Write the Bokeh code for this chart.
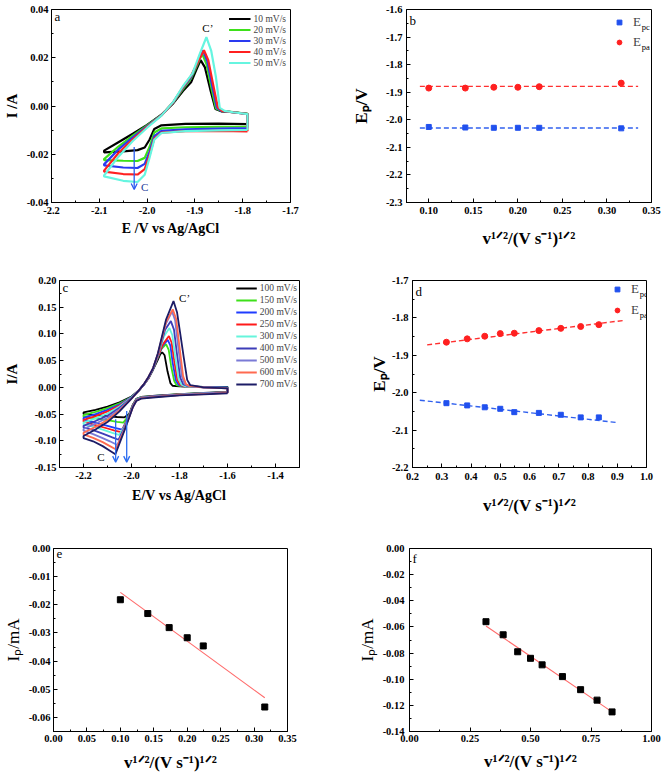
from bokeh.plotting import figure
from bokeh.layouts import column, row
from bokeh.models import (FixedTicker, PrintfTickFormatter, Legend, LegendItem,
                          Label, Arrow, OpenHead)
from bokeh.embed import file_html
from bokeh.resources import INLINE

SERIF = "Liberation Serif"

# ---------------- panel a : CVs 10-50 mV/s ----------------
a_rates = ["10 mV/s", "20 mV/s", "30 mV/s", "40 mV/s", "50 mV/s"]
a_colors = ["#000000", "#3ee01a", "#2a3af0", "#ff2020", "#66f5e0"]
a10_E = [-1.79, -1.85, -1.92, -1.97, -1.985, -1.995, -2.005, -2.02, -2.05, -2.09,
         -2.09, -2.06, -2.03, -2.00, -1.97, -1.945, -1.925, -1.908, -1.897, -1.888, -1.879, -1.868, -1.857, -1.845, -1.82, -1.79, -1.79]
a10_I = [-0.0075, -0.0073, -0.0074, -0.0080, -0.0095, -0.0140, -0.0172, -0.0183, -0.0188, -0.0192,
         -0.0185, -0.0150, -0.0115, -0.0078, -0.0036, 0.0012, 0.0062, 0.0098, 0.0150, 0.0190, 0.0160, 0.0070, -0.0012, -0.0022, -0.0026, -0.0032, -0.0075]
a20_E = [-1.79, -1.85, -1.92, -1.97, -1.985, -1.995, -2.005, -2.02, -2.05, -2.09,
         -2.09, -2.06, -2.03, -2.00, -1.97, -1.945, -1.925, -1.908, -1.894, -1.885, -1.876, -1.866, -1.856, -1.845, -1.82, -1.79, -1.79]
a20_I = [-0.0085, -0.0086, -0.0088, -0.0093, -0.0110, -0.0170, -0.0215, -0.0228, -0.0227, -0.0224,
         -0.0220, -0.0168, -0.0123, -0.0080, -0.0037, 0.0015, 0.0070, 0.0115, 0.0175, 0.0217, 0.0175, 0.0080, -0.0010, -0.0020, -0.0025, -0.0033, -0.0085]
a30_E = [-1.79, -1.85, -1.92, -1.97, -1.985, -1.995, -2.005, -2.02, -2.05, -2.09,
         -2.09, -2.06, -2.03, -2.00, -1.97, -1.945, -1.925, -1.908, -1.893, -1.883, -1.874, -1.864, -1.854, -1.845, -1.82, -1.79, -1.79]
a30_I = [-0.0092, -0.0094, -0.0097, -0.0103, -0.0125, -0.0190, -0.0240, -0.0257, -0.0255, -0.0246,
         -0.0242, -0.0180, -0.0130, -0.0083, -0.0038, 0.0016, 0.0075, 0.0120, 0.0185, 0.0230, 0.0185, 0.0085, -0.0008, -0.0020, -0.0026, -0.0034, -0.0092]
a40_E = [-1.79, -1.85, -1.92, -1.97, -1.985, -1.995, -2.005, -2.02, -2.05, -2.09,
         -2.09, -2.06, -2.03, -2.00, -1.97, -1.945, -1.925, -1.908, -1.892, -1.881, -1.872, -1.862, -1.852, -1.843, -1.82, -1.79, -1.79]
a40_I = [-0.0105, -0.0103, -0.0104, -0.0110, -0.0135, -0.0205, -0.0262, -0.0284, -0.0282, -0.0272,
         -0.0268, -0.0195, -0.0138, -0.0086, -0.0039, 0.0017, 0.0078, 0.0125, 0.0190, 0.0231, 0.0190, 0.0090, -0.0006, -0.0020, -0.0026, -0.0034, -0.0105]
a50_E = [-1.79, -1.85, -1.92, -1.97, -1.985, -1.995, -2.005, -2.02, -2.05, -2.09,
         -2.09, -2.06, -2.03, -2.00, -1.97, -1.945, -1.925, -1.905, -1.89, -1.876, -1.866, -1.856, -1.848, -1.838, -1.82, -1.79, -1.79]
a50_I = [-0.0099, -0.0101, -0.0104, -0.0112, -0.0140, -0.0215, -0.0285, -0.0315, -0.0310, -0.0292,
         -0.0288, -0.0210, -0.0145, -0.0090, -0.0040, 0.0018, 0.0082, 0.0135, 0.0215, 0.0285, 0.0230, 0.0120, -0.0008, -0.0020, -0.0026, -0.0034, -0.0099]
a_xticks = [-2.2, -2.1, -2.0, -1.9, -1.8, -1.7]
a_xminor = [-2.15, -2.05, -1.95, -1.85, -1.75]
a_yticks = [-0.04, -0.02, 0.0, 0.02, 0.04]
a_yminor = [-0.03, -0.01, 0.01, 0.03]
a_arrow = [-2.027, -0.0170, -2.027, -0.0346]

# ---------------- panel b ----------------
b_x = [0.100, 0.141, 0.173, 0.200, 0.224, 0.316]
b_epc = [-2.026, -2.028, -2.029, -2.029, -2.029, -2.031]
b_epa = [-1.885, -1.885, -1.882, -1.882, -1.880, -1.867]
b_fit_x = [0.09, 0.335]
b_fit_pc = [-2.030, -2.030]
b_fit_pa = [-1.879, -1.879]
b_xticks = [0.10, 0.15, 0.20, 0.25, 0.30, 0.35]
b_xminor = [0.075, 0.125, 0.175, 0.225, 0.275, 0.325]
b_yticks = [-2.3, -2.2, -2.1, -2.0, -1.9, -1.8, -1.7, -1.6]
b_yminor = [-2.25, -2.15, -2.05, -1.95, -1.85, -1.75, -1.65]

# ---------------- panel c : CVs 100-700 mV/s ----------------
c_rates = ["100 mV/s", "150 mV/s", "200 mV/s", "250 mV/s", "300 mV/s",
           "400 mV/s", "500 mV/s", "600 mV/s", "700 mV/s"]
c_colors = ["#000000", "#3ee01a", "#1f3cff", "#ff1a1a", "#66f5dc",
            "#3d3db8", "#7a7ad6", "#ff6a50", "#1c1c66"]
c100_E = [-1.60, -1.70, -1.80, -1.90, -1.96, -1.98, -1.995, -2.010, -2.029, -2.06, -2.10, -2.15, -2.20,
          -2.20, -2.15, -2.10, -2.05, -2.00, -1.97, -1.95, -1.93, -1.91, -1.89,
          -1.88, -1.872, -1.862, -1.85, -1.838, -1.829, -1.80, -1.70, -1.60, -1.60]
c100_I = [-0.0085, -0.0105, -0.0125, -0.0155, -0.0180, -0.0215, -0.0330, -0.0500, -0.0560, -0.0555, -0.0540, -0.0520, -0.0500,
          -0.047, -0.042, -0.036, -0.028, -0.017, -0.006, 0.004, 0.016, 0.033, 0.052,
          0.062, 0.0657, 0.060, 0.030, 0.008, 0.003, 0.002, 0.001, 0.001, -0.0085]
c150_E = [-1.60, -1.70, -1.80, -1.90, -1.96, -1.98, -1.995, -2.010, -2.034, -2.06, -2.10, -2.15, -2.20,
          -2.20, -2.15, -2.10, -2.05, -2.00, -1.97, -1.95, -1.93, -1.91, -1.89,
          -1.875, -1.856, -1.845, -1.835, -1.822, -1.812, -1.79, -1.70, -1.60, -1.60]
c150_I = [-0.0088, -0.0108, -0.0128, -0.0158, -0.0183, -0.0220, -0.0340, -0.0520, -0.0660, -0.0645, -0.0615, -0.0580, -0.0550,
          -0.052, -0.046, -0.039, -0.030, -0.018, -0.006, 0.004, 0.017, 0.034, 0.056,
          0.072, 0.081, 0.070, 0.040, 0.012, 0.004, 0.002, 0.001, 0.000, -0.0088]
c200_E = [-1.60, -1.70, -1.80, -1.90, -1.96, -1.98, -1.995, -2.010, -2.039, -2.07, -2.10, -2.15, -2.20,
          -2.20, -2.15, -2.10, -2.05, -2.00, -1.97, -1.95, -1.93, -1.91, -1.89,
          -1.87, -1.849, -1.838, -1.828, -1.815, -1.804, -1.785, -1.70, -1.60, -1.60]
c200_I = [-0.0090, -0.0110, -0.0131, -0.0161, -0.0187, -0.0225, -0.0345, -0.0530, -0.0790, -0.0760, -0.0720, -0.0660, -0.0600,
          -0.057, -0.050, -0.042, -0.032, -0.018, -0.006, 0.004, 0.017, 0.034, 0.057,
          0.078, 0.089, 0.078, 0.045, 0.013, 0.005, 0.002, 0.001, 0.000, -0.0090]
c250_E = [-1.60, -1.70, -1.80, -1.90, -1.96, -1.98, -1.995, -2.010, -2.043, -2.07, -2.10, -2.15, -2.20,
          -2.20, -2.15, -2.10, -2.05, -2.00, -1.97, -1.95, -1.93, -1.91, -1.89,
          -1.87, -1.844, -1.833, -1.822, -1.809, -1.798, -1.78, -1.70, -1.60, -1.60]
c250_I = [-0.0092, -0.0112, -0.0134, -0.0164, -0.0190, -0.0230, -0.0350, -0.0540, -0.0840, -0.0810, -0.0770, -0.0705, -0.0640,
          -0.061, -0.054, -0.045, -0.034, -0.019, -0.006, 0.004, 0.017, 0.035, 0.058,
          0.080, 0.096, 0.084, 0.050, 0.014, 0.005, 0.002, 0.000, -0.001, -0.0092]
c300_E = [-1.60, -1.70, -1.80, -1.90, -1.96, -1.98, -1.995, -2.010, -2.030, -2.052, -2.08, -2.12, -2.16, -2.20,
          -2.20, -2.15, -2.10, -2.05, -2.00, -1.97, -1.95, -1.93, -1.91, -1.89,
          -1.865, -1.842, -1.830, -1.818, -1.804, -1.792, -1.775, -1.70, -1.60, -1.60]
c300_I = [-0.0094, -0.0114, -0.0137, -0.0167, -0.0193, -0.0235, -0.0355, -0.0550, -0.0740, -0.0890, -0.0850, -0.0790, -0.0735, -0.0690,
          -0.066, -0.058, -0.049, -0.036, -0.019, -0.006, 0.004, 0.018, 0.035, 0.060,
          0.095, 0.111, 0.098, 0.058, 0.016, 0.005, 0.002, 0.000, -0.001, -0.0094]
c400_E = [-1.60, -1.70, -1.80, -1.90, -1.96, -1.98, -1.995, -2.010, -2.030, -2.054, -2.08, -2.12, -2.16, -2.20,
          -2.20, -2.15, -2.10, -2.05, -2.00, -1.97, -1.95, -1.93, -1.91, -1.89,
          -1.86, -1.836, -1.823, -1.811, -1.797, -1.785, -1.77, -1.70, -1.60, -1.60]
c400_I = [-0.0097, -0.0117, -0.0140, -0.0171, -0.0197, -0.0240, -0.0360, -0.0555, -0.0760, -0.0980, -0.0935, -0.0865, -0.0800, -0.0750,
          -0.072, -0.063, -0.053, -0.038, -0.020, -0.006, 0.004, 0.018, 0.035, 0.061,
          0.108, 0.124, 0.108, 0.064, 0.018, 0.006, 0.003, 0.000, -0.001, -0.0097]
c500_E = [-1.60, -1.70, -1.80, -1.90, -1.96, -1.98, -1.995, -2.010, -2.030, -2.059, -2.09, -2.12, -2.16, -2.20,
          -2.20, -2.15, -2.10, -2.05, -2.00, -1.97, -1.95, -1.93, -1.91, -1.89,
          -1.858, -1.831, -1.818, -1.805, -1.790, -1.778, -1.765, -1.70, -1.60, -1.60]
c500_I = [-0.0100, -0.0120, -0.0143, -0.0175, -0.0202, -0.0245, -0.0370, -0.0560, -0.0780, -0.1080, -0.1010, -0.0950, -0.0875, -0.0810,
          -0.078, -0.068, -0.057, -0.041, -0.020, -0.006, 0.005, 0.018, 0.036, 0.062,
          0.118, 0.142, 0.125, 0.075, 0.020, 0.006, 0.003, 0.000, -0.002, -0.0100]
c600_E = [-1.60, -1.70, -1.80, -1.90, -1.96, -1.98, -1.995, -2.010, -2.030, -2.066, -2.09, -2.12, -2.16, -2.20,
          -2.20, -2.15, -2.10, -2.05, -2.00, -1.97, -1.95, -1.93, -1.91, -1.89,
          -1.856, -1.828, -1.814, -1.800, -1.785, -1.773, -1.76, -1.70, -1.60, -1.60]
c600_I = [-0.0105, -0.0125, -0.0147, -0.0180, -0.0207, -0.0250, -0.0375, -0.0565, -0.0800, -0.1160, -0.1100, -0.1025, -0.0945, -0.0880,
          -0.085, -0.074, -0.061, -0.043, -0.021, -0.006, 0.005, 0.019, 0.036, 0.063,
          0.122, 0.146, 0.128, 0.076, 0.021, 0.006, 0.003, 0.000, -0.002, -0.0105]
c700_E = [-1.60, -1.70, -1.80, -1.90, -1.96, -1.98, -1.995, -2.010, -2.030, -2.067, -2.09, -2.12, -2.16, -2.20,
          -2.20, -2.15, -2.10, -2.05, -2.00, -1.97, -1.95, -1.93, -1.91, -1.89,
          -1.856, -1.825, -1.810, -1.795, -1.782, -1.768, -1.755, -1.70, -1.60, -1.60]
c700_I = [-0.0110, -0.0130, -0.0150, -0.0185, -0.0212, -0.0255, -0.0380, -0.0570, -0.0815, -0.1250, -0.1185, -0.1100, -0.1010, -0.0950,
          -0.091, -0.079, -0.065, -0.045, -0.021, -0.006, 0.005, 0.019, 0.036, 0.064,
          0.127, 0.1615, 0.140, 0.095, 0.055, 0.014, 0.004, 0.000, -0.002, -0.0110]
c_xticks = [-2.2, -2.0, -1.8, -1.6, -1.4]
c_xminor = [-2.3, -2.1, -1.9, -1.7, -1.5, -1.3]
c_yticks = [-0.15, -0.10, -0.05, 0.0, 0.05, 0.10, 0.15, 0.20]
c_yminor = [-0.125, -0.075, -0.025, 0.025, 0.075, 0.125, 0.175]
c_arrow1 = [-2.066, -0.0596, -2.066, -0.140]
c_arrow2 = [-2.020, -0.0443, -2.020, -0.140]

# ---------------- panel d ----------------
d_x = [0.316, 0.387, 0.447, 0.500, 0.548, 0.632, 0.707, 0.775, 0.837]
d_epc = [-2.028, -2.034, -2.039, -2.043, -2.052, -2.054, -2.059, -2.066, -2.066]
d_epa = [-1.865, -1.856, -1.849, -1.842, -1.841, -1.834, -1.828, -1.823, -1.818]
d_fit_pc_x = [0.225, 0.90]
d_fit_pc_y = [-2.020, -2.080]
d_fit_pa_x = [0.25, 0.92]
d_fit_pa_y = [-1.872, -1.807]
d_xticks = [0.2, 0.3, 0.4, 0.5, 0.6, 0.7, 0.8, 0.9, 1.0]
d_xminor = [0.25, 0.35, 0.45, 0.55, 0.65, 0.75, 0.85, 0.95]
d_yticks = [-2.2, -2.1, -2.0, -1.9, -1.8, -1.7]
d_yminor = [-2.15, -2.05, -1.95, -1.85, -1.75]

# ---------------- panel e ----------------
e_x = [0.100, 0.141, 0.173, 0.200, 0.224, 0.316]
e_ip = [-0.0182, -0.0231, -0.0281, -0.0317, -0.0346, -0.0563]
e_fit_x = [0.100, 0.316]
e_fit_y = [-0.0156, -0.0530]
e_xticks = [0.0, 0.05, 0.10, 0.15, 0.20, 0.25, 0.30, 0.35]
e_xminor = [0.025, 0.075, 0.125, 0.175, 0.225, 0.275, 0.325]
e_yticks = [-0.06, -0.05, -0.04, -0.03, -0.02, -0.01, 0.0]
e_yminor = [-0.065, -0.055, -0.045, -0.035, -0.025, -0.015, -0.005]

# ---------------- panel f ----------------
f_x = [0.316, 0.387, 0.447, 0.500, 0.548, 0.632, 0.707, 0.775, 0.837]
f_ip = [-0.056, -0.066, -0.079, -0.084, -0.089, -0.098, -0.108, -0.116, -0.125]
f_fit_x = [0.316, 0.837]
f_fit_y = [-0.0593, -0.1250]
f_xticks = [0.0, 0.25, 0.50, 0.75, 1.0]
f_xminor = [0.125, 0.375, 0.625, 0.875]
f_yticks = [-0.14, -0.12, -0.10, -0.08, -0.06, -0.04, -0.02, 0.0]
f_yminor = [-0.13, -0.11, -0.09, -0.07, -0.05, -0.03, -0.01]

XLAB_E_A = "E /V vs Ag/AgCl"
XLAB_E_C = "E/V vs Ag/AgCl"
XLAB_V = "v¹ᐟ²/(V s⁻¹)¹ᐟ²"
YLAB_EP = "Eₚ/V"
YLAB_IP = "Iₚ/mA"


def base_fig(w, h, bl, br, bt, bb, xr, yr, xt, xmt, yt, ymt, xfmt, yfmt):
    p = figure(width=w, height=h, x_range=xr, y_range=yr,
               output_backend="svg", toolbar_location=None,
               min_border_left=bl, min_border_right=br,
               min_border_top=bt, min_border_bottom=bb)
    p.xgrid.visible = False
    p.ygrid.visible = False
    p.outline_line_color = "black"
    p.outline_line_width = 1
    p.outline_line_alpha = 1.0
    p.background_fill_color = "white"
    p.border_fill_color = "white"
    p.xaxis.ticker = FixedTicker(ticks=xt, minor_ticks=xmt)
    p.yaxis.ticker = FixedTicker(ticks=yt, minor_ticks=ymt)
    p.xaxis.formatter = PrintfTickFormatter(format=xfmt)
    p.yaxis.formatter = PrintfTickFormatter(format=yfmt)
    for ax in (p.xaxis[0], p.yaxis[0]):
        ax.major_tick_in = 4
        ax.major_tick_out = 0
        ax.minor_tick_in = 2
        ax.minor_tick_out = 0
        ax.axis_line_color = "black"
        ax.major_tick_line_color = "black"
        ax.minor_tick_line_color = "black"
        ax.major_label_text_font = SERIF
        ax.major_label_text_font_style = "bold"
        ax.major_label_text_font_size = "10.5px"
        ax.major_label_text_color = "black"
        ax.axis_label_text_font = SERIF
        ax.axis_label_text_font_style = "bold"
        ax.axis_label_text_color = "black"
    return p


def set_labels(p, xl, xs, xls, xsize, yl, ys, yls, ysize, ystyle="bold"):
    p.xaxis.axis_label = xl
    p.xaxis.major_label_standoff = xs
    p.xaxis.axis_label_standoff = xls
    p.xaxis.axis_label_text_font_size = xsize
    p.yaxis.axis_label = yl
    p.yaxis.major_label_standoff = ys
    p.yaxis.axis_label_standoff = yls
    p.yaxis.axis_label_text_font_size = ysize
    p.yaxis.axis_label_text_font_style = ystyle


def letter(p, txt, h):
    p.add_layout(Label(x=3, y=h - 3, x_units="screen", y_units="screen", text=txt,
                       text_baseline="top", text_font=SERIF, text_font_size="13px",
                       text_color="black"))


def txt(p, x, y, s, size="11px", color="black"):
    p.add_layout(Label(x=x, y=y, text=s, text_align="center", text_baseline="middle",
                       text_font=SERIF, text_font_size=size, text_color=color))


def arrow(p, a, color):
    p.add_layout(Arrow(x_start=a[0], y_start=a[1], x_end=a[2], y_end=a[3],
                       line_color=color, line_width=1.3,
                       end=OpenHead(size=6, line_color=color, line_width=1.3)))


def ep_legend(p, r_pc, r_pa, left, top, spacing, fh):
    height = 16 * 2 + spacing
    leg = Legend(items=[LegendItem(label="E", renderers=[r_pc]),
                        LegendItem(label="E", renderers=[r_pa])],
                 location=(left, fh - top - height), margin=0, padding=0, spacing=spacing,
                 glyph_width=12, glyph_height=16, label_height=16, label_width=12,
                 label_standoff=8, label_text_font=SERIF, label_text_font_size="13px",
                 background_fill_alpha=0, border_line_alpha=0)
    p.add_layout(leg)
    sx = left + 20 + 8.2
    for k, sub in enumerate(["pc", "pa"]):
        yc = top + 8 + k * (16 + spacing)
        p.add_layout(Label(x=sx, y=fh - yc - 4.5, x_units="screen", y_units="screen",
                           text=sub, text_font=SERIF, text_font_size="8.5px",
                           text_baseline="alphabetic", text_color="black"))


# ---------- panel a ----------
pa = base_fig(330, 262, 48, 40, 5, 60, (-2.2, -1.7), (-0.04, 0.04),
              a_xticks, a_xminor, a_yticks, a_yminor, "%.1f", "%.2f")
set_labels(pa, XLAB_E_A, 4, 4, "14px", "I /A", 3, 4, "15px")
a_items = []
for lab, col, E, I in zip(a_rates, a_colors, [a10_E, a20_E, a30_E, a40_E, a50_E],
                          [a10_I, a20_I, a30_I, a40_I, a50_I]):
    r = pa.line(E, I, line_color=col, line_width=2.2)
    a_items.append(LegendItem(label=lab, renderers=[r]))
pa.add_layout(Legend(items=a_items, location="top_right", margin=3, padding=1, spacing=0,
                     glyph_width=22, glyph_height=11, label_height=11, label_standoff=3,
                     label_text_font=SERIF, label_text_font_size="9.5px",
                     background_fill_alpha=0, border_line_alpha=0))
arrow(pa, a_arrow, "#2a5cf0")
txt(pa, -2.005, -0.0335, "C", color="#1a3a9a")
txt(pa, -1.873, 0.0322, "C’")
letter(pa, "a", 197)

# ---------- panel b ----------
pb = base_fig(331, 262, 76, 10, 9, 60, (0.075, 0.35), (-2.3, -1.6),
              b_xticks, b_xminor, b_yticks, b_yminor, "%.2f", "%.1f")
set_labels(pb, XLAB_V, 4, 12, "17px", YLAB_EP, 4, 12, "17px")
pb.line(b_fit_x, b_fit_pa, line_color="#ff3030", line_width=1.4, line_dash="5 3")
pb.line(b_fit_x, b_fit_pc, line_color="#3060ee", line_width=1.4, line_dash="5 3")
rb_pc = pb.scatter(b_x, b_epc, marker="square", size=5, color="#2050ee")
rb_pa = pb.scatter(b_x, b_epa, marker="circle", size=6, color="#ff2020")
ep_legend(pb, rb_pc, rb_pa, 207, 5, 4, 193)
letter(pb, "b", 193)

# ---------- panel c ----------
pc = base_fig(330, 272, 54, 31, 15, 66, (-2.3, -1.3), (-0.15, 0.20),
              c_xticks, c_xminor, c_yticks, c_yminor, "%.1f", "%.2f")
set_labels(pc, XLAB_E_C, 4, 6, "14px", "I/A", 3, 12, "15px")
c_items = []
for lab, col, E, I in zip(c_rates, c_colors,
                          [c100_E, c150_E, c200_E, c250_E, c300_E, c400_E, c500_E, c600_E, c700_E],
                          [c100_I, c150_I, c200_I, c250_I, c300_I, c400_I, c500_I, c600_I, c700_I]):
    r = pc.line(E, I, line_color=col, line_width=1.8)
    c_items.append(LegendItem(label=lab, renderers=[r]))
pc.add_layout(Legend(items=c_items, location="top_right", margin=1, padding=1, spacing=0,
                     glyph_width=21, glyph_height=12, label_height=12, label_standoff=3,
                     label_text_font=SERIF, label_text_font_size="9.5px",
                     background_fill_alpha=0, border_line_alpha=0))
arrow(pc, c_arrow1, "#2a6cf0")
arrow(pc, c_arrow2, "#2a6cf0")
txt(pc, -2.127, -0.131, "C")
txt(pc, -1.779, 0.1665, "C’")
letter(pc, "c", 191)

# ---------- panel d ----------
pd_ = base_fig(331, 272, 82, 15, 18, 67, (0.2, 1.0), (-2.2, -1.7),
               d_xticks, d_xminor, d_yticks, d_yminor, "%.1f", "%.1f")
set_labels(pd_, XLAB_V, 5, 13, "17px", YLAB_EP, 4, 0, "17px")
pd_.line(d_fit_pa_x, d_fit_pa_y, line_color="#ff3030", line_width=1.4, line_dash="5 3")
pd_.line(d_fit_pc_x, d_fit_pc_y, line_color="#3060ee", line_width=1.4, line_dash="5 3")
rd_pc = pd_.scatter(d_x, d_epc, marker="square", size=5, color="#2050ee")
rd_pa = pd_.scatter(d_x, d_epa, marker="circle", size=6, color="#ff2020")
ep_legend(pd_, rd_pc, rd_pa, 199, 1, 5, 187)
letter(pd_, "d", 187)

# ---------- panel e ----------
pe = base_fig(330, 240, 47, 43, 12, 43, (0.0, 0.35), (-0.065, 0.0),
              e_xticks, e_xminor, e_yticks, e_yminor, "%.2f", "%.2f")
set_labels(pe, XLAB_V, 3, 8, "17px", YLAB_IP, 3, 3, "17px", ystyle="normal")
pe.line(e_fit_x, e_fit_y, line_color="#ff6a6a", line_width=1.1)
pe.scatter(e_x, e_ip, marker="square", size=6, color="black")
letter(pe, "e", 185)

# ---------- panel f ----------
pf = base_fig(331, 240, 79, 10, 14, 42, (0.0, 1.0), (-0.14, 0.0),
              f_xticks, f_xminor, f_yticks, f_yminor, "%.2f", "%.2f")
set_labels(pf, XLAB_V, 3, 7, "17px", YLAB_IP, 5, 3, "17px", ystyle="normal")
pf.line(f_fit_x, f_fit_y, line_color="#ff6a6a", line_width=1.1)
pf.scatter(f_x, f_ip, marker="square", size=6, color="black")
letter(pf, "f", 184)

layout = column(row(pa, pb), row(pc, pd_), row(pe, pf))
open("out.html", "w").write(file_html(layout, INLINE))
